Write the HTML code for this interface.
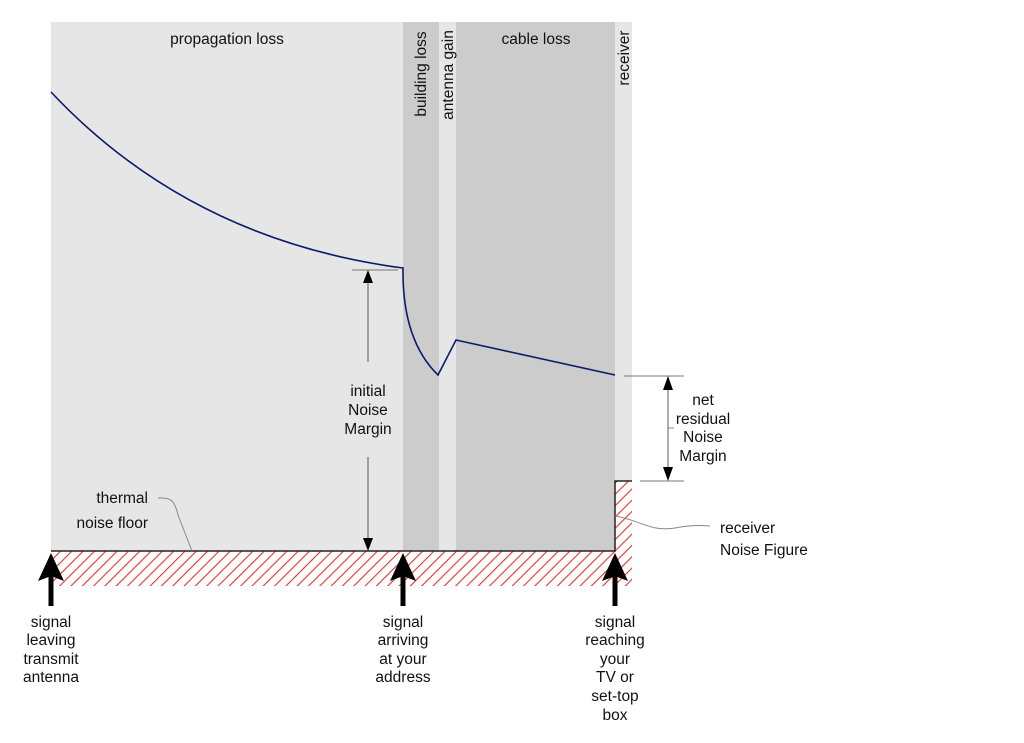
<!DOCTYPE html>
<html><head><meta charset="utf-8"><style>
html,body{margin:0;padding:0;background:#fff;}
svg{display:block;}
text{font-family:"Liberation Sans",sans-serif;font-size:15.5px;fill:#111;}
</style></head><body>
<svg width="1024" height="743" viewBox="0 0 1024 743" xmlns="http://www.w3.org/2000/svg">
<defs>
<pattern id="h" patternUnits="userSpaceOnUse" width="8" height="8" patternTransform="rotate(45)">
<rect width="8" height="8" fill="#fff"/>
<line x1="0" y1="0" x2="0" y2="8" stroke="#f03030" stroke-width="2.2"/>
</pattern>
<path id="arr" d="M0,0 L13,28 L2.5,24 L2.5,53 L-2.5,53 L-2.5,24 L-13,28 Z" fill="#000"/>
</defs>
<rect x="51" y="22" width="352" height="529" fill="#e6e6e6"/>
<rect x="403" y="22" width="36" height="529" fill="#cccccc"/>
<rect x="439" y="22" width="17" height="529" fill="#e6e6e6"/>
<rect x="456" y="22" width="159" height="529" fill="#cccccc"/>
<rect x="615" y="22" width="17" height="459" fill="#e6e6e6"/>
<rect x="51" y="551" width="581" height="35" fill="url(#h)"/>
<rect x="615" y="481" width="17" height="105" fill="url(#h)"/>
<path d="M51,551 L615,551 L615,481 L632,481" fill="none" stroke="#222" stroke-width="1.5"/>
<path d="M51,92 Q190,240 403,268 Q402,340 438,375 L456,340 L615,375" fill="none" stroke="#0a1a6e" stroke-width="1.6"/>
<line x1="352" y1="270" x2="398" y2="270" stroke="#777" stroke-width="1"/>
<line x1="368" y1="275" x2="368" y2="362" stroke="#333" stroke-width="0.8"/>
<line x1="368" y1="457" x2="368" y2="545" stroke="#333" stroke-width="0.8"/>
<path d="M368,270 L363,283 L373,283 Z" fill="#000"/>
<path d="M368,551 L363,538 L373,538 Z" fill="#000"/>
<text x="368" y="396" text-anchor="middle">initial</text>
<text x="368" y="415" text-anchor="middle">Noise</text>
<text x="368" y="434" text-anchor="middle">Margin</text>
<line x1="624" y1="376" x2="684" y2="376" stroke="#777" stroke-width="1"/>
<line x1="640" y1="481" x2="684" y2="481" stroke="#777" stroke-width="1"/>
<line x1="668" y1="380" x2="668" y2="478" stroke="#333" stroke-width="0.8"/>
<line x1="668" y1="428" x2="674" y2="428" stroke="#777" stroke-width="0.8"/>
<path d="M668,376 L663,390 L673,390 Z" fill="#000"/>
<path d="M668,481 L663,467 L673,467 Z" fill="#000"/>
<text x="703" y="405" text-anchor="middle">net</text>
<text x="703" y="424" text-anchor="middle">residual</text>
<text x="703" y="442" text-anchor="middle">Noise</text>
<text x="703" y="461" text-anchor="middle">Margin</text>
<path d="M158,498 C172,497 175,502 178,515 L192,551" fill="none" stroke="#888" stroke-width="1"/>
<path d="M615,516 C640,520 650,532 675,528 C690,525 700,525 710,526" fill="none" stroke="#888" stroke-width="1"/>
<text x="148" y="503" text-anchor="end">thermal</text>
<text x="148" y="528" text-anchor="end">noise floor</text>
<text x="720" y="533">receiver</text>
<text x="720" y="555">Noise Figure</text>
<text x="227" y="44" text-anchor="middle">propagation loss</text>
<text x="536" y="44" text-anchor="middle">cable loss</text>
<text transform="translate(426,74) rotate(-90)" text-anchor="middle">building loss</text>
<text transform="translate(453,75) rotate(-90)" text-anchor="middle">antenna gain</text>
<text transform="translate(629,58) rotate(-90)" text-anchor="middle">receiver</text>
<use href="#arr" x="51" y="553"/>
<use href="#arr" x="403" y="553"/>
<use href="#arr" x="615" y="553"/>
<g text-anchor="middle">
<text x="51" y="627">signal</text><text x="51" y="645">leaving</text><text x="51" y="664">transmit</text><text x="51" y="682">antenna</text>
<text x="403" y="627">signal</text><text x="403" y="645">arriving</text><text x="403" y="664">at your</text><text x="403" y="682">address</text>
<text x="615" y="627">signal</text><text x="615" y="645">reaching</text><text x="615" y="664">your</text><text x="615" y="682">TV or</text><text x="615" y="701">set-top</text><text x="615" y="720">box</text>
</g>
</svg>
</body></html>
